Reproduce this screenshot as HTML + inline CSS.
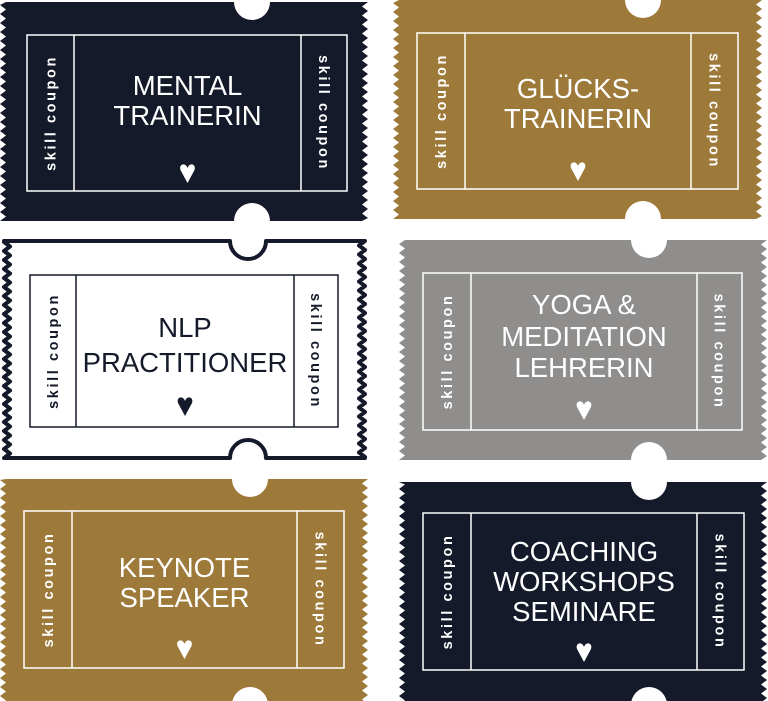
<!DOCTYPE html>
<html><head><meta charset="utf-8">
<style>
html,body{margin:0;padding:0;background:#fff;}
svg{display:block;}
text{font-family:"Liberation Sans",sans-serif;}
</style></head>
<body>
<svg id="s" width="768" height="701" viewBox="0 0 768 701" xmlns="http://www.w3.org/2000/svg"></svg>
<script>
var T=[
 {x0:0,y0:2,x1:368,y1:221,cx:252,fill:"#141a2a",fg:"#ffffff",ix0:27,iy0:35,ix1:347,iy1:191,d1:74,d2:301,lines:["MENTAL","TRAINERIN"],ly:[95,125],hy:172},
 {x0:393,y0:0,x1:762,y1:219,cx:643,fill:"#9e7a3a",fg:"#ffffff",ix0:417,iy0:33,ix1:738,iy1:189,d1:465,d2:691,lines:["GLÜCKS-","TRAINERIN"],ly:[98,128],hy:170},
 {x0:4,y0:241,x1:365,y1:458,cx:248,fill:"#ffffff",fg:"#141a2a",stroke:true,ix0:30,iy0:275,ix1:338,iy1:427,d1:76,d2:294,lines:["NLP","PRACTITIONER"],ly:[337,372],hy:405},
 {x0:399,y0:240,x1:767,y1:460,cx:649,fill:"#8f8e8c",fg:"#ffffff",ix0:423,iy0:273,ix1:742,iy1:430,d1:471,d2:697,lines:["YOGA &","MEDITATION","LEHRERIN"],ly:[314,346,377],hy:409},
 {x0:0,y0:479,x1:368,y1:705,cx:250,fill:"#9e7a3a",fg:"#ffffff",ix0:24,iy0:511,ix1:344,iy1:668,d1:72,d2:297,lines:["KEYNOTE","SPEAKER"],ly:[577,607],hy:648},
 {x0:399,y0:482,x1:767,y1:705,cx:649,fill:"#141a2a",fg:"#ffffff",ix0:423,iy0:513,ix1:744,iy1:670,d1:471,d2:697,lines:["COACHING","WORKSHOPS","SEMINARE"],ly:[561,591,621],hy:651}
];
var r=18,P=9,D=6,out="";
T.forEach(function(t){
 var p="M"+t.x0+","+t.y0+" L"+(t.cx-r)+","+t.y0+" A"+r+","+r+" 0 0 0 "+(t.cx+r)+","+t.y0+" L"+t.x1+","+t.y0;
 for(var y=t.y0;y<t.y1;y+=P){p+=" L"+(t.x1-D)+","+Math.min(y+P/2,t.y1)+" L"+t.x1+","+Math.min(y+P,t.y1);}
 p+=" L"+(t.cx+r)+","+t.y1+" A"+r+","+r+" 0 0 0 "+(t.cx-r)+","+t.y1+" L"+t.x0+","+t.y1;
 for(var y=t.y1;y>t.y0;y-=P){p+=" L"+(t.x0+D)+","+Math.max(y-P/2,t.y0)+" L"+t.x0+","+Math.max(y-P,t.y0);}
 p+="Z";
 out+='<path d="'+p+'" fill="'+t.fill+'"'+(t.stroke?' stroke="#141a2a" stroke-width="4" stroke-linejoin="round"':'')+'/>';
 var c=t.fg;
 out+='<rect x="'+t.ix0+'" y="'+t.iy0+'" width="'+(t.ix1-t.ix0)+'" height="'+(t.iy1-t.iy0)+'" fill="none" stroke="'+c+'" stroke-width="1.5"/>';
 out+='<line x1="'+t.d1+'" y1="'+t.iy0+'" x2="'+t.d1+'" y2="'+t.iy1+'" stroke="'+c+'" stroke-width="1.5"/>';
 out+='<line x1="'+t.d2+'" y1="'+t.iy0+'" x2="'+t.d2+'" y2="'+t.iy1+'" stroke="'+c+'" stroke-width="1.5"/>';
 var my=(t.iy0+t.iy1)/2, lx=(t.ix0+t.d1)/2, rx=(t.d2+t.ix1)/2;
 out+='<text transform="translate('+(lx+5)+','+my+') rotate(-90)" text-anchor="middle" font-size="14.5" font-weight="bold" letter-spacing="2.6" fill="'+c+'">skill coupon</text>';
 out+='<text transform="translate('+(rx-5)+','+my+') rotate(90)" text-anchor="middle" font-size="14.5" font-weight="bold" letter-spacing="2.6" fill="'+c+'">skill coupon</text>';
 var mx=(t.d1+t.d2)/2;
 t.lines.forEach(function(l,i){out+='<text x="'+mx+'" y="'+t.ly[i]+'" text-anchor="middle" font-size="27.5" fill="'+c+'">'+l.replace("&","&amp;")+'</text>';});
 var hx=mx, hy=t.hy;
 out+='<path d="M'+hx+','+(hy+11)+' L'+(hx-7)+','+(hy-2)+' C'+(hx-9)+','+(hy-8)+' '+(hx-2)+','+(hy-10)+' '+hx+','+(hy-4)+' C'+(hx+2)+','+(hy-10)+' '+(hx+9)+','+(hy-8)+' '+(hx+7)+','+(hy-2)+' Z" fill="'+c+'"/>';
});
document.getElementById("s").innerHTML=out;
</script>
</body></html>
